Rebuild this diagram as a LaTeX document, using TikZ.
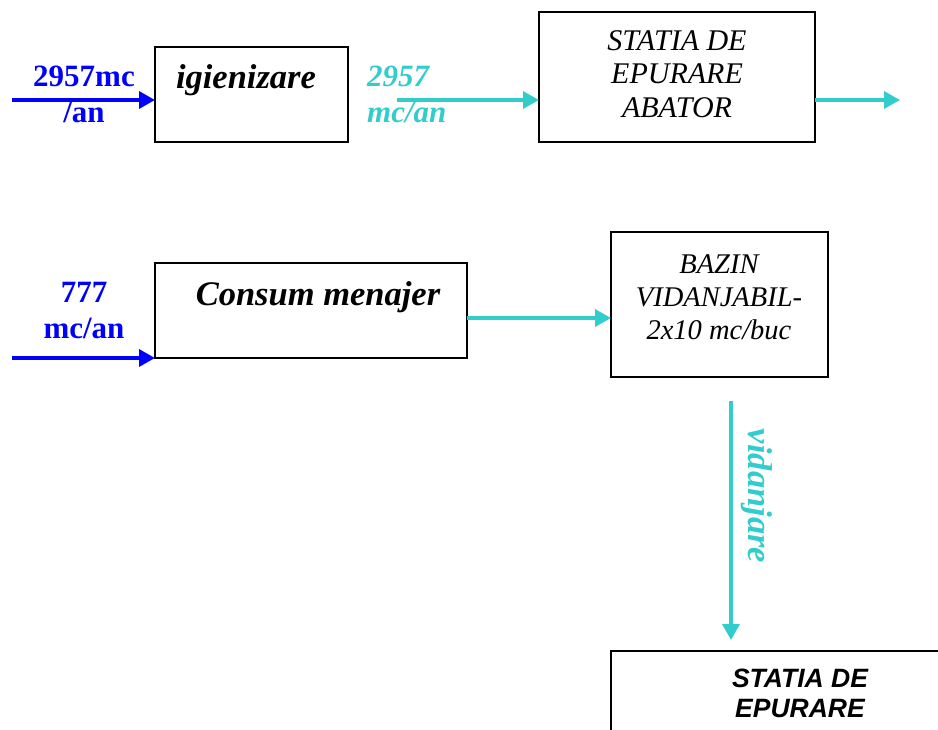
\documentclass[tikz,border=0pt]{standalone}
\usepackage{fontspec}
\setmainfont{Liberation Serif}
\newfontfamily\arialfont{Liberation Sans}
\usetikzlibrary{arrows.meta}
\definecolor{flowblue}{RGB}{0,0,255}
\definecolor{flowcyan}{RGB}{51,204,204}

\begin{document}
\begin{tikzpicture}[x=1pt,y=-1pt,
  box/.style={draw=black, line width=1.9pt, inner sep=0pt, outer sep=0pt},
  inflow/.style={draw=flowblue, line width=3.5pt, -{Triangle[length=16pt,width=17pt]}},
  outflow/.style={draw=flowcyan, line width=3.5pt, -{Triangle[length=16pt,width=17pt]}},
  bluelbl/.style={text=flowblue, align=center, inner sep=0pt,
    font=\bfseries\fontsize{31}{35.5}\selectfont},
  cyanlbl/.style={text=flowcyan, align=left, inner sep=0pt,
    font=\bfseries\itshape\fontsize{31}{36}\selectfont},
  boldtitle/.style={inner sep=0pt, font=\bfseries\itshape\fontsize{34.5}{36}\selectfont},
  stationtxt/.style={align=center, inner sep=0pt, font=\itshape\fontsize{30}{33.5}\selectfont},
  tanktxt/.style={align=center, inner sep=0pt, font=\itshape\fontsize{28.5}{33}\selectfont},
  planttxt/.style={align=center, inner sep=0pt, font=\arialfont\bfseries\itshape\fontsize{26.5}{30}\selectfont}]
\clip (0,0) rectangle (938,729);

% process boxes
\node[box, minimum width=193pt, minimum height=95pt] (igien) at (251.5,94.5) {};
\node[box, minimum width=276pt, minimum height=130pt] (abator) at (677,77) {};
\node[box, minimum width=312pt, minimum height=95pt] (consum) at (311,310.5) {};
\node[box, minimum width=217pt, minimum height=145pt] (bazin) at (719.5,304.5) {};
\node[box, minimum width=360pt, minimum height=160pt, anchor=north west] (epurare) at (611,651) {};

% box texts (base anchor = baseline of the last line)
\node[boldtitle, anchor=base] (tigien) at (246,88) {igienizare};
\node[stationtxt, anchor=base] (tabator) at (677,117) {STATIA DE\\EPURARE\\ABATOR};
\node[boldtitle, anchor=base] (tconsum) at (318,305) {Consum menajer};
\node[tanktxt, anchor=base] (tbazin) at (719,339) {BAZIN\\VIDANJABIL-\\2x10 mc/buc};
\node[planttxt, anchor=base] (tepurare) at (800,717) {STATIA DE\\EPURARE};

% flow labels
\node[bluelbl, anchor=base] (qA) at (84,122) {2957mc\\/an};
\node[cyanlbl, anchor=base west] (qAout) at (367,122) {2957\\mc/an};
\node[bluelbl, anchor=base] (qB) at (84,338) {777\\mc/an};
\node[text=flowcyan, inner sep=0pt, rotate=-90,
  font=\bfseries\itshape\fontsize{34.5}{36}\selectfont] (tvid) at (757,496) {vidanjare};

% connector ends
\coordinate (inA) at (12,100);
\coordinate (outA) at (397,100);
\coordinate (endA) at (900,100);
\coordinate (inB) at (12,358);
\coordinate (midB) at (540,318);
\coordinate (vTop) at (731,401);
\coordinate (vEnd) at (731,640);

% flows
\draw[inflow] (inA) -- (inA -| igien.west);
\draw[outflow] (outA) -- (outA -| abator.west);
\draw[outflow] (abator.east |- endA) -- (endA);
\draw[inflow] (inB) -- (inB -| consum.west);
\draw[outflow] (consum.east |- midB) -- (midB -| bazin.west);
\draw[outflow] (vTop) -- (vEnd);
\end{tikzpicture}
\end{document}
